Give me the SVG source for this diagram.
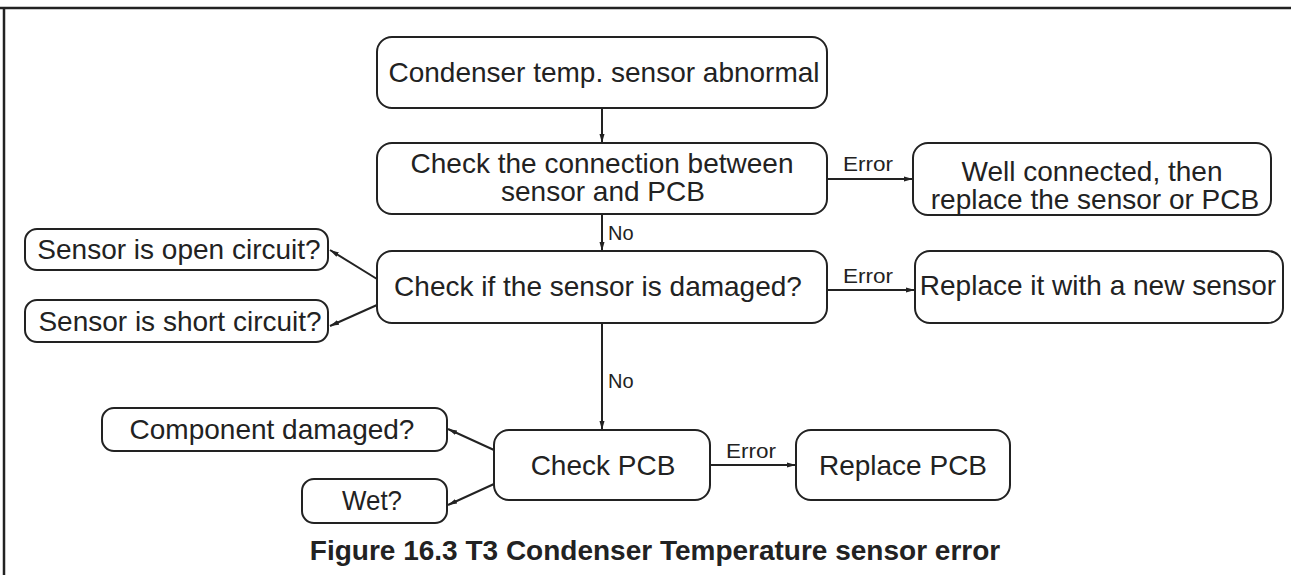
<svg xmlns="http://www.w3.org/2000/svg" width="1291" height="575" viewBox="0 0 1291 575">
<defs>
<marker id="ah" markerWidth="10" markerHeight="6" refX="9" refY="3" orient="auto" markerUnits="userSpaceOnUse">
<path d="M0,0.5 L9,3 L0,5.5 Z" fill="#222"/>
</marker>
<style>
.box{fill:#fff;stroke:#222;stroke-width:2}
.t{font-family:"Liberation Sans",Arial,sans-serif;font-size:28px;fill:#222;text-anchor:middle}
.s{font-family:"Liberation Sans",Arial,sans-serif;font-size:20px;fill:#222}
.c{stroke:#222;stroke-width:2;fill:none;marker-end:url(#ah)}
.cap{font-family:"Liberation Sans",Arial,sans-serif;font-size:28px;font-weight:bold;fill:#222;text-anchor:middle}
</style>
</defs>
<rect width="1291" height="575" fill="#fff"/>
<g id="frame"><path d="M0,8 H1291 M4,8 V575" stroke="#222" stroke-width="2.5" fill="none"/></g>
<g id="connectors">
<line class="c" x1="602" y1="108" x2="602" y2="143"/>
<line class="c" x1="827" y1="179" x2="913" y2="179"/>
<line class="c" x1="602" y1="214" x2="602" y2="251"/>
<line class="c" x1="827" y1="290" x2="915" y2="290"/>
<line class="c" x1="377" y1="279" x2="330" y2="250"/>
<line class="c" x1="377" y1="305" x2="330" y2="326"/>
<line class="c" x1="602" y1="323" x2="602" y2="430"/>
<line class="c" x1="494" y1="450" x2="448" y2="429"/>
<line class="c" x1="494" y1="484" x2="448" y2="505"/>
<line class="c" x1="710" y1="465" x2="796" y2="465"/>
<text class="s" x="843" y="171" textLength="50" lengthAdjust="spacingAndGlyphs">Error</text>
<text class="s" x="843" y="283" textLength="50" lengthAdjust="spacingAndGlyphs">Error</text>
<text class="s" x="726" y="458" textLength="50" lengthAdjust="spacingAndGlyphs">Error</text>
<text class="s" x="608" y="240" font-size="21">No</text>
<text class="s" x="608" y="388" font-size="21">No</text>
</g>
<g id="n1"><rect class="box" x="377" y="37" width="450" height="71" rx="15"/>
<text class="t" x="604" y="82">Condenser temp. sensor abnormal</text></g>
<g id="n2"><rect class="box" x="377" y="143" width="450" height="71" rx="15"/>
<text class="t" x="602" y="173">Check the connection between</text>
<text class="t" x="603" y="201">sensor and PCB</text></g>
<g id="n3"><rect class="box" x="913" y="143" width="358" height="72" rx="15"/>
<text class="t" x="1092" y="181">Well connected, then</text>
<text class="t" x="1095" y="209">replace the sensor or PCB</text></g>
<g id="n4"><rect class="box" x="377" y="251" width="450" height="72" rx="15"/>
<text class="t" x="598" y="296">Check if the sensor is damaged?</text></g>
<g id="n5"><rect class="box" x="915" y="251" width="368" height="72" rx="15"/>
<text class="t" x="1098" y="295">Replace it with a new sensor</text></g>
<g id="n6"><rect class="box" x="25" y="229" width="303" height="41" rx="12"/>
<text class="t" x="179" y="259">Sensor is open circuit?</text></g>
<g id="n7"><rect class="box" x="25" y="300" width="303" height="42" rx="12"/>
<text class="t" x="180" y="331">Sensor is short circuit?</text></g>
<g id="n8"><rect class="box" x="494" y="430" width="216" height="70" rx="15"/>
<text class="t" x="603" y="475">Check PCB</text></g>
<g id="n9"><rect class="box" x="796" y="430" width="214" height="70" rx="15"/>
<text class="t" x="903" y="475">Replace PCB</text></g>
<g id="n10"><rect class="box" x="102" y="408" width="345" height="43" rx="12"/>
<text class="t" x="272" y="439">Component damaged?</text></g>
<g id="n11"><rect class="box" x="302" y="479" width="145" height="44" rx="12"/>
<text class="t" x="372" y="510" textLength="60" lengthAdjust="spacingAndGlyphs">Wet?</text></g>
<g id="caption"><text class="cap" x="655" y="560">Figure 16.3 T3 Condenser Temperature sensor error</text></g>
</svg>
